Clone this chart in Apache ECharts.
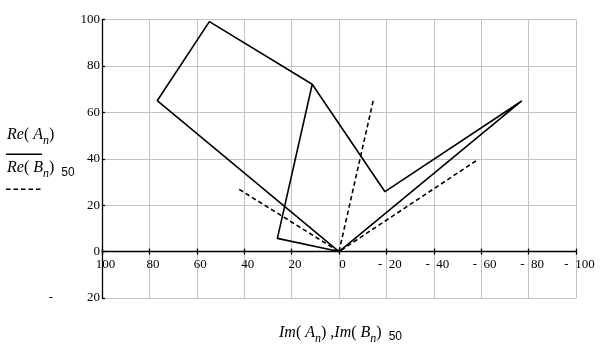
<!DOCTYPE html>
<html>
<head>
<meta charset="utf-8">
<script src="https://cdn.jsdelivr.net/npm/echarts@6/dist/echarts.min.js"></script>
<style>
html,body{margin:0;padding:0;background:#fff;}
#chart{width:606px;height:349px;}
</style>
</head>
<body>
<div id="chart"></div>
<script>
// Solid curve: Im(A_n) (horizontal) vs Re(A_n) (vertical)
var aIm = [0, 76.7, 54.7, 11.3, 26.0, 0, -77.1, -19.4, 11.3];
var aRe = [0, 65.0, 99.1, 72.1, 5.7, 0, 64.9, 25.8, 72.1];
// Dashed curve: Im(B_n)*50 vs Re(B_n)*50 (null = pen up)
var bIm = [42.1, 0, -57.8, null, 0, -14.5];
var bRe = [26.8, 0, 39.1, null, 0, 65.3];
// Axis ranges / ticks
var xMin = -100, xMax = 100, xStep = 20;
var yMin = -20, yMax = 100, yStep = 20;

function pairs(xs, ys) {
  return xs.map(function (x, i) { return (x === null || ys[i] === null) ? '-' : [x, ys[i]]; });
}

var serif = 'Liberation Serif';
var sans = 'Liberation Sans';
var richMath = {
  it: { fontFamily: serif, fontStyle: 'italic', fontSize: 16, color: '#000' },
  p: { fontFamily: serif, fontSize: 16, color: '#000' },
  sub: { fontFamily: serif, fontStyle: 'italic', fontSize: 12, color: '#000', padding: [12, 0, 0, 0] },
  s: { fontFamily: sans, fontSize: 12, color: '#000', padding: [9, 0, 0, 7] }
};

var chart = echarts.init(document.getElementById('chart'), null, { renderer: 'canvas' });
var gridColor = '#c3c3c3';
chart.setOption({
  animation: false,
  backgroundColor: '#fff',
  grid: { left: 102, right: 30, top: 19.5, bottom: 51, containLabel: false },
  xAxis: [{
    type: 'value', min: xMin, max: xMax, interval: xStep, inverse: true,
    axisLine: { show: true, onZero: true, onZeroAxisIndex: 0, lineStyle: { color: '#000', width: 1.3 } },
    axisTick: { show: true, inside: false, length: 3, lineStyle: { color: '#000', width: 1.3 } },
    splitLine: { show: true, lineStyle: { color: gridColor, width: 1 } },
    axisLabel: {
      fontFamily: serif, fontSize: 13, color: '#000', margin: -40, padding: [0, 0, 0, 7],
      formatter: function (v) { return v < 0 ? '-  ' + (-v) : String(v); }
    }
  }, {
    type: 'value', min: xMin, max: xMax, interval: xStep, inverse: true, position: 'top',
    axisLine: { show: false, onZero: true, onZeroAxisIndex: 1 },
    axisTick: { show: true, length: 3, lineStyle: { color: '#000', width: 1.3 } },
    splitLine: { show: false }, axisLabel: { show: false }
  }],
  yAxis: [{
    type: 'value', min: yMin, max: yMax, interval: yStep,
    axisLine: { show: true, onZero: false, lineStyle: { color: '#000', width: 1.3 } },
    axisTick: { show: true, inside: true, length: 3, lineStyle: { color: '#000', width: 1.3 } },
    splitLine: { show: true, lineStyle: { color: gridColor, width: 1 } },
    axisLabel: {
      fontFamily: serif, fontSize: 13, color: '#000', margin: 2,
      formatter: function (v) { return v < 0 ? '{d|-}{n|' + (-v) + '}' : String(v); },
      rich: {
        d: { fontFamily: serif, fontSize: 13, color: '#000', padding: [0, 34, 0, 0] },
        n: { fontFamily: serif, fontSize: 13, color: '#000' }
      }
    }
  }, {
    type: 'value', min: yMin, max: yMax, interval: yStep, position: 'right',
    axisLine: { show: false, onZero: false }, axisTick: { show: false },
    splitLine: { show: false }, axisLabel: { show: false }
  }],
  series: [{
    type: 'line', xAxisIndex: 0, yAxisIndex: 0, data: pairs(aIm, aRe), symbol: 'none',
    lineStyle: { color: '#000', width: 1.6 }, silent: true
  }, {
    type: 'line', xAxisIndex: 0, yAxisIndex: 0, data: pairs(bIm, bRe), symbol: 'none', connectNulls: false,
    lineStyle: { color: '#000', width: 1.6, type: [4.5, 3] }, silent: true
  }],
  graphic: [
    { type: 'text', z: 10, x: 7, y: 135,
      style: { text: '{it|Re}{p|( }{it|A}{sub|n}{p|)}', rich: richMath, verticalAlign: 'middle' } },
    { type: 'line', z: 10, shape: { x1: 6, y1: 154.3, x2: 42, y2: 154.3 }, style: { stroke: '#000', lineWidth: 1.6 } },
    { type: 'text', z: 10, x: 7, y: 167.7,
      style: { text: '{it|Re}{p|( }{it|B}{sub|n}{p|)}{s|50}', rich: richMath, verticalAlign: 'middle' } },
    { type: 'line', z: 10, shape: { x1: 6, y1: 189.3, x2: 42, y2: 189.3 }, style: { stroke: '#000', lineWidth: 1.6, lineDash: [4.5, 3] } },
    { type: 'text', z: 10, x: 279, y: 332.5,
      style: { text: '{it|Im}{p|( }{it|A}{sub|n}{p|) ,}{it|Im}{p|( }{it|B}{sub|n}{p|)}{s|50}', rich: richMath, verticalAlign: 'middle' } }
  ]
});
</script>
</body>
</html>
